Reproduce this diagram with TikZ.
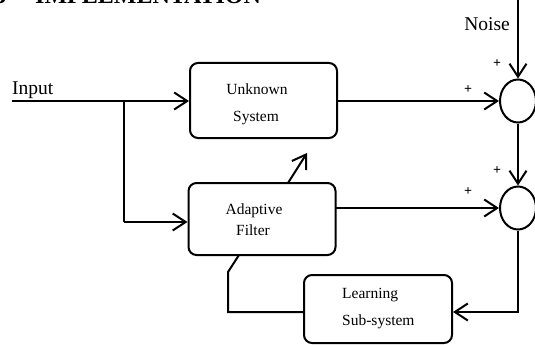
\documentclass[tikz,border=0pt]{standalone}
\usepackage{fontspec}
\setmainfont{Liberation Serif}
\usetikzlibrary{arrows.meta,shapes.geometric}
\begin{document}
\begin{tikzpicture}[x=1pt,y=-1pt,
  blk/.style={draw,line width=2pt,rounded corners=8pt,inner sep=0pt},
  sumnode/.style={draw,ellipse,line width=2pt,minimum width=36pt,minimum height=43pt,inner sep=0pt},
  wire/.style={line width=2pt},
  arr/.style={line width=2pt,-{Straight Barb[length=13pt,width=17pt,line width=2pt]}},
  boxtext/.style={inner sep=0pt,anchor=base,font=\fontsize{15.5}{18}\selectfont},
  bigtext/.style={inner sep=0pt,font=\fontsize{19.5}{23}\selectfont},
  plus/.style={inner sep=0pt,font=\fontsize{14}{16}\selectfont\bfseries}]
\useasboundingbox (0,0) rectangle (535,345);
\clip (0,0) rectangle (535,345);
% title fragment
\node[inner sep=0pt,anchor=base west,font=\fontsize{24}{28}\selectfont\bfseries] (t3) at (-6,4) {3};
\node[inner sep=0pt,anchor=base west,font=\fontsize{24}{28}\selectfont\bfseries] (title) at (35,4) {IMPLEMENTATION};
% blocks
\node[blk,minimum width=147pt,minimum height=75pt] (us) at (263.5,100.5) {};
\node[blk,minimum width=147pt,minimum height=72pt] (af) at (262,219) {};
\node[blk,minimum width=148pt,minimum height=68pt] (ls) at (378,309) {};
\node[boxtext] (ust1) at (257,94) {Unknown};
\node[boxtext] (ust2) at (256,121) {System};
\node[boxtext] (aft1) at (254,214) {Adaptive};
\node[boxtext] (aft2) at (253,235) {Filter};
\node[boxtext,anchor=base west] (lst1) at (342,298) {Learning};
\node[boxtext,anchor=base west] (lst2) at (342,325) {Sub-system};
% summing junctions
\node[sumnode] (s1) at (518,101) {};
\node[sumnode] (s2) at (518,208) {};
% labels
\node[bigtext,anchor=base west] (inlab) at (12,94) {Input};
\node[bigtext,anchor=base east] (nlab) at (510,31) {Noise};
\node[plus] (p1) at (497,64) {+};
\node[plus] (p2) at (468,90) {+};
\node[plus] (p3) at (497,171) {+};
\node[plus] (p4) at (468,192) {+};
% coordinates
\coordinate (in) at (12,101);
\coordinate (br) at (124,101);
\coordinate (br2) at (124,222);
\coordinate (ntop) at (518,-2);
\coordinate (afout) at (336,208);
\coordinate (s2down) at (518,312);
\coordinate (fb1) at (239,255);
\coordinate (fb2) at (228,272);
\coordinate (fb3) at (228,312);
\coordinate (adapt0) at (288,183);
\coordinate (adapt1) at (307,153);
% connectors
\draw[arr] (in) -- (us.west |- in);
\draw[wire] (br) -- (br2);
\draw[arr] (br2) -- (af.west |- br2);
\draw[arr] (us.east |- s1) -- (s1.west);
\draw[arr] (ntop) -- (s1.north);
\draw[arr] (s1.south) -- (s2.north);
\draw[arr] (afout) -- (s2.west);
\draw[arr] (s2.south) -- (s2down) -- (ls.east |- s2down);
\draw[wire] (fb1) -- (fb2) -- (fb3) -- (ls.west |- fb3);
\draw[arr] (adapt0) -- (adapt1);
\end{tikzpicture}
\end{document}
